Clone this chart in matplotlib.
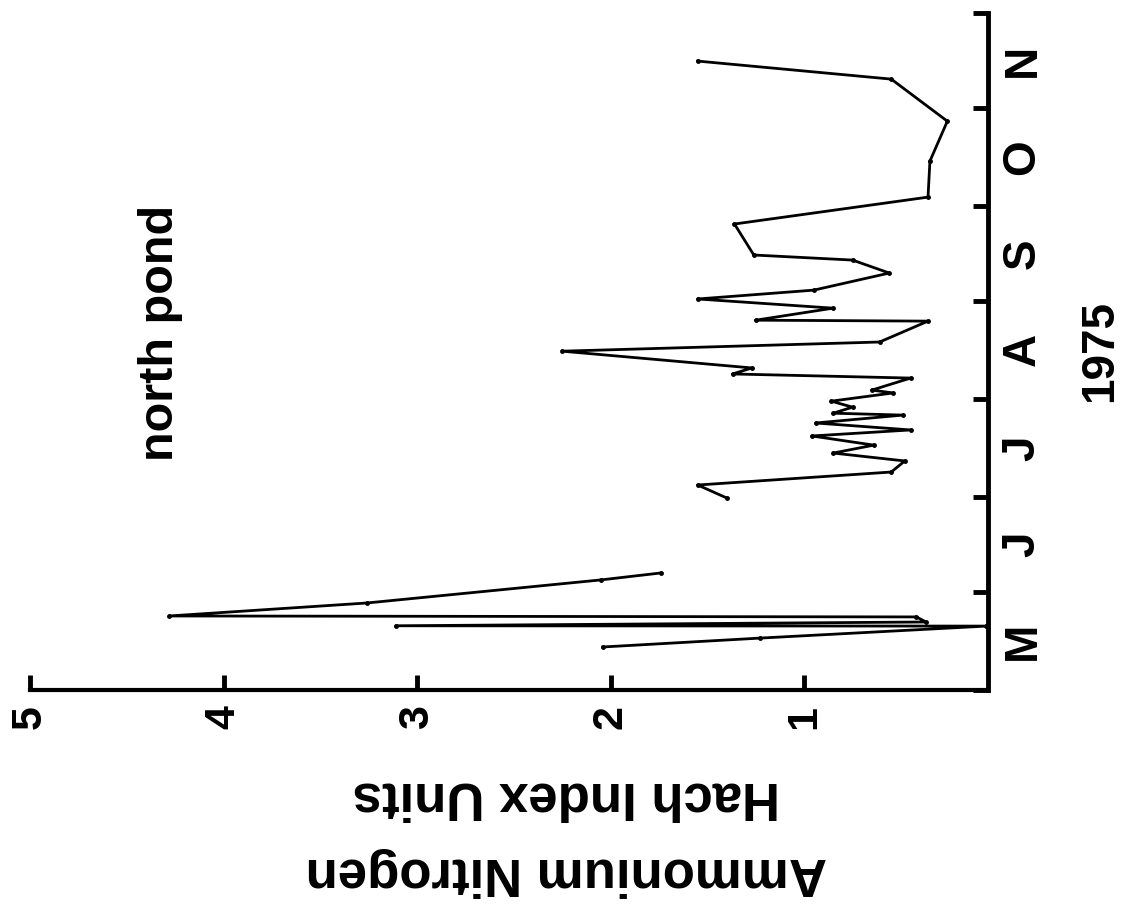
import datetime as dt
import numpy as np
import matplotlib
matplotlib.use("Agg")
import matplotlib.pyplot as plt

plt.rcParams['font.family'] = ['Liberation Sans', 'DejaVu Sans']
plt.rcParams['font.weight'] = 'bold'

# days after 1 May 1975, ammonium nitrogen (Hach index units)
# nan = no sampling in June, the curve is broken there
day = [13.6, 16.4, 20.2, 20.3, 21.5, 23.1, 23.4, 27.5, 34.8, 37.0,
       np.nan,
       60.7, 64.8, 68.9, 72.4, 74.9, 77.4, 80.3, 82.2, 84.4, 86.9,
       87.5, 89.4, 91.3, 93.9, 94.8, 98.6, 99.9, 101.8, 107.1, 110.0,
       116.6, 116.9, 120.7, 123.6, 126.4, 131.8, 135.9, 137.5, 147.3, 155.8,
       167.2, 179.8, 193.1, 198.8]
ammonium = [2.04, 1.23, 0.06, 3.11, 0.37, 0.42, 4.28, 3.26, 2.05, 1.74,
            np.nan,
            1.40, 1.55, 0.55, 0.48, 0.85, 0.64, 0.96, 0.45, 0.94, 0.49,
            0.85, 0.75, 0.86, 0.54, 0.65, 0.45, 1.37, 1.27, 2.25, 0.61,
            0.36, 1.25, 0.85, 1.55, 0.95, 0.56, 0.75, 1.26, 1.36, 0.36,
            0.35, 0.26, 0.55, 1.55]

months = ['M', 'J', 'J', 'A', 'S', 'O', 'N']
month_nums = [5, 6, 7, 8, 9, 10, 11, 12]
value_ticks = [1, 2, 3, 4, 5]

start = dt.date(1975, 5, 1)
month_starts = [(dt.date(1975, m, 1) - start).days for m in month_nums]
month_mids = [(a + b) / 2 for a, b in zip(month_starts[:-1], month_starts[1:])]

fig = plt.figure(figsize=(11.3, 9.14), dpi=100)
ax = fig.add_axes([30 / 1130, 224 / 914, 958 / 1130, 677 / 914])

ax.plot(ammonium, day, color='black', lw=2, marker='o', ms=2.5)

ax.set_xlim(5, 0.05)
ax.set_ylim(month_starts[0], month_starts[-1])

for s in ['top', 'left']:
    ax.spines[s].set_visible(False)
ax.spines['bottom'].set_linewidth(3)
ax.spines['right'].set_linewidth(3.5)

ax.set_xticks(value_ticks)
ax.set_xticklabels([str(v) for v in value_ticks], rotation=90, fontsize=31,
                   fontweight='bold', va='top', ha='center')
ax.tick_params(axis='x', direction='in', length=11, width=3.5, pad=11)

ax.yaxis.tick_right()
ax.set_yticks(month_starts)
ax.set_yticklabels([])
ax.set_yticks(month_mids, minor=True)
ax.set_yticklabels(months, minor=True, rotation=90, fontsize=33,
                   fontweight='bold', va='center', ha='left')
ax.tick_params(axis='y', which='major', direction='in', length=11, width=3.5)
ax.tick_params(axis='y', which='minor', length=0, pad=9)

ax.yaxis.set_label_position('right')
ax.set_ylabel('1975', rotation=90, fontsize=33, fontweight='bold', labelpad=24)

ax.set_xlabel('Ammonium Nitrogen\nHach Index Units', rotation=180,
              fontsize=38, fontweight='bold', linespacing=1.65)
ax.xaxis.set_label_coords(0.56, -0.12)

ax.text(0.136, 0.527, 'north pond', transform=ax.transAxes, rotation=90,
        fontsize=35, fontweight='bold', ha='center', va='center')

fig.savefig('out.png', dpi=100)
